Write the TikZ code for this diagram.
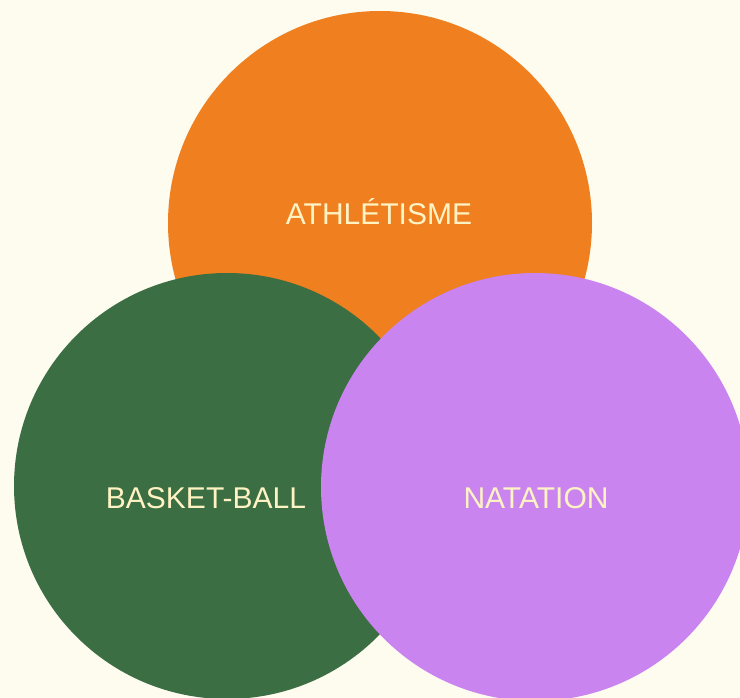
\documentclass[tikz,border=0pt]{standalone}
\usepackage{fontspec}
\setmainfont{Liberation Sans}
\definecolor{bg}{HTML}{FEFBEF}
\definecolor{orangec}{HTML}{EF7F1F}
\definecolor{greenc}{HTML}{3B6E42}
\definecolor{purplec}{HTML}{C984F0}
\definecolor{txt}{HTML}{FFF3C4}
\begin{document}
\begin{tikzpicture}[x=1pt,y=-1pt,
  disc/.style={circle,inner sep=0pt,minimum size=#1},
  lbl/.style={text=txt,font=\fontsize{30}{30}\selectfont,inner sep=0pt,anchor=center}]
\useasboundingbox (0,0) rectangle (740,698);
\clip (0,0) rectangle (740,698);
\fill[bg] (0,0) rectangle (740,698);
\node[disc=424pt,fill=orangec] (ath) at (380,223) {};
\node[disc=426pt,fill=greenc] (bask) at (227,486) {};
\node[disc=428pt,fill=purplec] (nat) at (535,487) {};
\node[lbl] (tath) at (379,212) {ATHLÉTISME};
\node[lbl] (tbask) at (206,498) {BASKET-BALL};
\node[lbl] (tnat) at (536,498) {NATATION};
\end{tikzpicture}
\end{document}
